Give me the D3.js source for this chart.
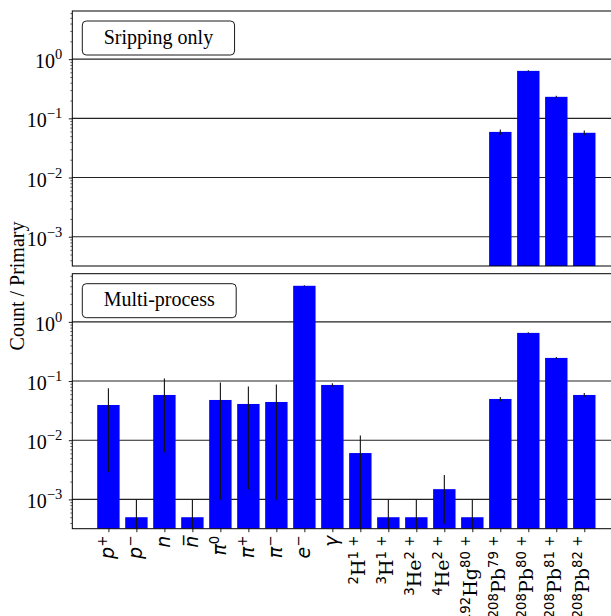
<!DOCTYPE html>
<html lang="en">
<head>
<meta charset="utf-8">
<title>Count per primary</title>
<script src="https://d3js.org/d3.v7.min.js"></script>
<style>
  body { margin: 0; background: #fff; }
</style>
</head>
<body>
<div id="chart"></div>
<script>
// x categories, ^{..} marks a superscript
const categories = ["p^{+}", "p^{−}", "n", "n\u0305", "π^{0}", "π^{+}", "π^{−}", "e^{−}", "γ",
    "^{2}H^{1 +}", "^{3}H^{1 +}", "^{3}He^{2 +}", "^{4}He^{2 +}", "^{192}Hg^{80 +}",
    "^{208}Pb^{79 +}", "^{208}Pb^{80 +}", "^{208}Pb^{81 +}", "^{208}Pb^{82 +}"];

// "Sripping only" panel
const strippingValues = [null, null, null, null, null, null, null, null, null,
    null, null, null, null, null, 0.059, 0.634, 0.231, 0.057];
const strippingErrors = [0, 0, 0, 0, 0, 0, 0, 0, 0,
    0, 0, 0, 0, 0, 0.006, 0.015, 0.009, 0.0055];

// "Multi-process" panel
const multiValues = [0.0394, 0.0005, 0.0582, 0.0005, 0.0479, 0.041, 0.0443, 4.07, 0.0859,
    0.00607, 0.0005, 0.0005, 0.00149, 0.0005, 0.0498, 0.651, 0.246, 0.0582];
const multiErrors = [0.0365, 0.0005, 0.052, 0.0005, 0.0469, 0.0395, 0.0433, 0.07, 0.006,
    0.0059, 0.0005, 0.0005, 0.0011, 0.0005, 0.004, 0.015, 0.01, 0.0045];

const yTicks = [1e-3, 1e-2, 1e-1, 1];
const panelTitles = ["Sripping only", "Multi-process"];

const W = 611, H = 616;
const left = 72.3, plotW = 548.1, panelH = 255;
const panelTops = [11, 273.7];

const svg = d3.select("#chart").append("svg")
    .attr("width", W).attr("height", H);

const x = d3.scaleLinear().domain([-1.29, categories.length - 1 + 1.29]).range([0, plotW]);
const step = x(1) - x(0);
const y = d3.scaleLog().domain([Math.pow(10, -3.495), Math.pow(10, 0.814)]).range([panelH, 0]);

const minorTicks = [];
for (let e = -4; e <= 0; e++) {
    for (let k = 2; k <= 9; k++) {
        const v = k * Math.pow(10, e);
        if (v > y.domain()[0] && v < y.domain()[1]) minorTicks.push(v);
    }
}

const serif = "'Liberation Serif', 'Times New Roman', serif";

function drawPanel(idx, values, errors) {
    const g = svg.append("g").attr("transform", `translate(${left},${panelTops[idx]})`);

    g.append("clipPath").attr("id", "clip" + idx)
        .append("rect").attr("width", plotW).attr("height", panelH);

    // grid
    g.append("g").selectAll("line").data(yTicks).join("line")
        .attr("x1", 0).attr("x2", plotW)
        .attr("y1", d => y(d)).attr("y2", d => y(d))
        .attr("stroke", "#222").attr("stroke-width", 1.1);

    const data = values.map((v, i) => ({i, v, e: errors[i]})).filter(d => d.v != null);

    const marks = g.append("g").attr("clip-path", `url(#clip${idx})`);
    marks.selectAll("rect").data(data).join("rect")
        .attr("x", d => x(d.i) - 0.4 * step)
        .attr("width", 0.8 * step)
        .attr("y", d => y(d.v))
        .attr("height", d => panelH - y(d.v))
        .attr("fill", "#0000ff");

    marks.selectAll("line").data(data.filter(d => d.e > 0)).join("line")
        .attr("x1", d => x(d.i)).attr("x2", d => x(d.i))
        .attr("y1", d => y(d.v + d.e))
        .attr("y2", d => d.v - d.e > 0 ? y(d.v - d.e) : panelH + 5)
        .attr("stroke", "#111").attr("stroke-width", 1.1);

    // y axis ticks
    g.append("g").call(d3.axisLeft(y).tickValues(minorTicks).tickSize(2).tickFormat(""))
        .call(a => a.select(".domain").remove())
        .selectAll("line").attr("stroke-width", 0.6);
    const yAxis = g.append("g").call(d3.axisLeft(y).tickValues(yTicks).tickSize(3.5).tickFormat(""));
    yAxis.select(".domain").remove();
    yAxis.selectAll("line").attr("stroke-width", 0.9);

    const lab = g.append("g").selectAll("text").data(yTicks).join("text")
        .attr("x", -10).attr("y", d => y(d) + 9)
        .attr("text-anchor", "end")
        .attr("font-family", serif).attr("font-size", 20);
    lab.append("tspan").text("10");
    lab.append("tspan").attr("dy", -9).attr("font-size", 14.5)
        .text(d => String(Math.round(Math.log10(d))).replace("-", "−"));

    // frame
    g.append("rect").attr("width", plotW).attr("height", panelH)
        .attr("fill", "none").attr("stroke", "#000").attr("stroke-width", 1);

    // title box
    const box = g.append("g");
    const boxRect = box.append("rect");
    const t = box.append("text")
        .attr("font-family", serif).attr("font-size", 20)
        .attr("y", 32.5).text(panelTitles[idx]);
    const tw = t.node().getComputedTextLength();
    const pad = 21.4;
    t.attr("x", 10 + pad);
    boxRect.attr("x", 10).attr("y", 10).attr("width", tw + 2 * pad).attr("height", 34)
        .attr("rx", 4).attr("fill", "#fff").attr("stroke", "#000").attr("stroke-width", 0.9);

    return g;
}

drawPanel(0, strippingValues, strippingErrors);
const bottom = drawPanel(1, multiValues, multiErrors);

// x ticks on the lower panel
const xAxis = bottom.append("g").attr("transform", `translate(0,${panelH})`)
    .call(d3.axisBottom(x).tickValues(d3.range(categories.length)).tickSize(3.5).tickFormat(""));
xAxis.select(".domain").remove();
xAxis.selectAll("line").attr("stroke-width", 0.9);

function parseLabel(s) {
    const out = [];
    const re = /\^\{([^}]*)\}/g;
    let last = 0, m;
    while ((m = re.exec(s))) {
        if (m.index > last) out.push({t: s.slice(last, m.index), sup: false});
        out.push({t: m[1], sup: true});
        last = re.lastIndex;
    }
    if (last < s.length) out.push({t: s.slice(last), sup: false});
    return out;
}

const labelTop = panelTops[1] + panelH + 7;
categories.forEach((c, i) => {
    const isotope = c.startsWith("^");
    const shiftX = isotope ? 5 : 6;
    const txt = svg.append("text")
        .attr("transform", `translate(${left + x(i) + shiftX},${labelTop}) rotate(-90)`)
        .attr("text-anchor", "end")
        .attr("font-size", 19);
    let shift = 0;
    parseLabel(c).forEach(p => {
        const target = p.sup ? -7 : 0;
        const sp = txt.append("tspan").attr("dy", target - shift).text(p.t);
        shift = target;
        if (p.sup) {
            sp.attr("font-family", "'DejaVu Sans', sans-serif").attr("font-size", 13.3);
        } else if (isotope) {
            sp.attr("font-family", "'DejaVu Serif', serif");
        } else {
            sp.attr("font-family", "'DejaVu Sans', sans-serif").attr("font-style", "italic");
        }
    });
});

// y label
svg.append("text")
    .attr("transform", "translate(24,286) rotate(-90)")
    .attr("text-anchor", "middle")
    .attr("font-family", serif).attr("font-size", 20)
    .text("Count / Primary");
</script>
</body>
</html>
